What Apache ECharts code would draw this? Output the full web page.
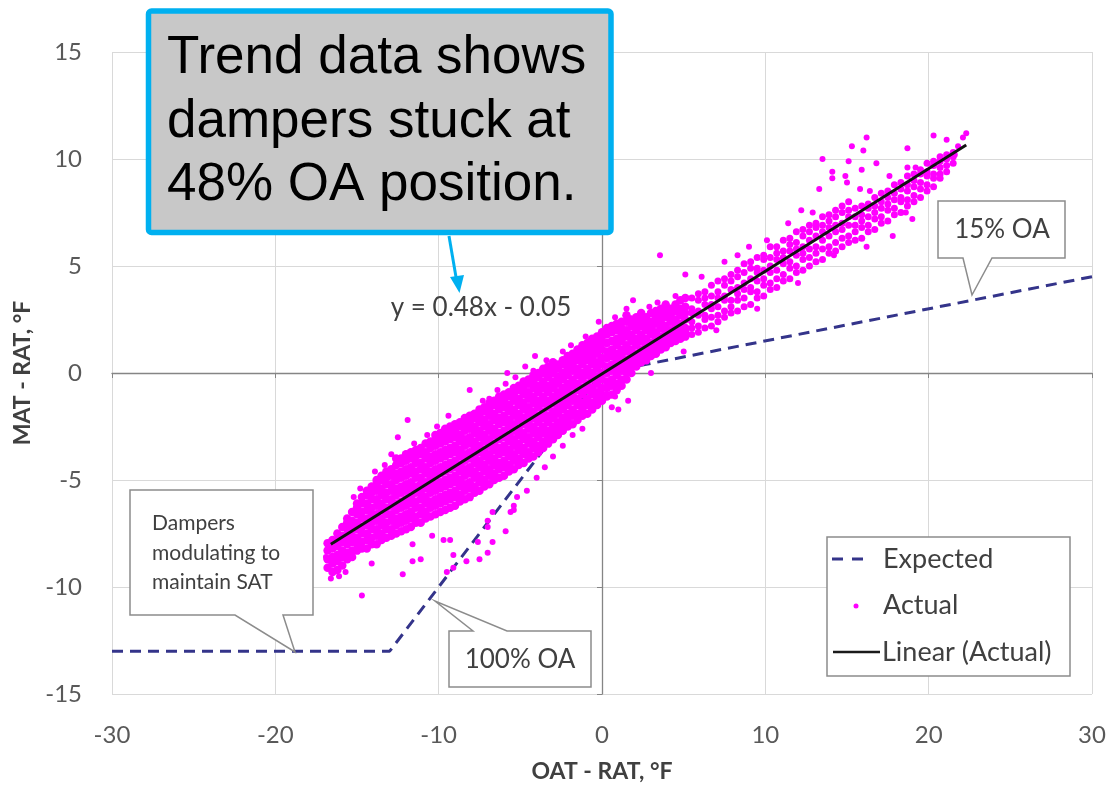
<!DOCTYPE html>
<html><head><meta charset="utf-8">
<script src="https://cdn.jsdelivr.net/npm/echarts@6/dist/echarts.min.js"></script>
<style>html,body{margin:0;padding:0;background:#fff}#chart{width:1110px;height:789px}</style>
</head><body><div id="chart"></div>
<script>
// ---- axes ----
const xAxisTicks = [-30, -20, -10, 0, 10, 20, 30];
const yAxisTicks = [-15, -10, -5, 0, 5, 10, 15];
// ---- Expected (piecewise) ----
const expectedX = [-30, -13, 0, 30];
const expectedY = [-13, -13, 0, 4.5];
// ---- Linear trend of Actual ----
const trendX = [-16.6, 22.3];
const trendY = [-8.0, 10.65];
// ---- Actual: dense band, columns [x, y1, y2, ...] ----
const actualBandNeg = [
[-16.8,-9.1,-8.7,-8.3,-7.95],
[-16.5,-9.3,-8.9,-8.6,-8.2,-7.8],
[-16.2,-9.2,-8.8,-8.5,-8.1,-7.8,-7.5],
[-15.9,-9.0,-8.6,-8.3,-7.9,-7.6,-7.2],
[-15.6,-8.7,-8.4,-8.0,-7.7,-7.3,-7.0,-6.8],
[-15.3,-8.6,-8.3,-7.9,-7.6,-7.2,-6.9,-6.5],
[-15.0,-8.3,-8.0,-7.7,-7.3,-7.0,-6.6,-6.3,-6.1],
[-14.7,-8.2,-7.9,-7.5,-7.2,-6.8,-6.5,-6.1,-5.8],
[-14.4,-8.2,-7.8,-7.5,-7.1,-6.8,-6.4,-6.1,-5.7,-5.5],
[-14.1,-8.0,-7.7,-7.3,-7.0,-6.6,-6.3,-5.9,-5.6,-5.3],
[-13.8,-8.0,-7.6,-7.3,-6.9,-6.6,-6.2,-5.9,-5.5,-5.2,-5.0],
[-13.5,-7.8,-7.5,-7.1,-6.8,-6.4,-6.1,-5.7,-5.4,-5.0,-4.8],
[-13.2,-7.7,-7.3,-7.0,-6.6,-6.3,-5.9,-5.6,-5.2,-4.9,-4.6],
[-12.9,-7.6,-7.3,-6.9,-6.6,-6.2,-5.9,-5.5,-5.2,-4.8,-4.5],
[-12.6,-7.5,-7.1,-6.8,-6.4,-6.1,-5.7,-5.4,-5.0,-4.7,-4.3,-4.0],
[-12.3,-7.4,-7.0,-6.7,-6.3,-6.0,-5.6,-5.3,-4.9,-4.6,-4.2,-4.0],
[-12.0,-7.3,-6.9,-6.6,-6.2,-5.9,-5.5,-5.2,-4.8,-4.5,-4.1,-3.8],
[-11.7,-7.2,-6.8,-6.5,-6.1,-5.8,-5.4,-5.1,-4.7,-4.4,-4.0,-3.7],
[-11.4,-7.0,-6.7,-6.3,-6.0,-5.6,-5.3,-4.9,-4.6,-4.2,-3.9,-3.6],
[-11.1,-7.0,-6.6,-6.3,-5.9,-5.6,-5.2,-4.9,-4.5,-4.2,-3.8,-3.5],
[-10.8,-6.8,-6.5,-6.1,-5.8,-5.4,-5.1,-4.7,-4.4,-4.0,-3.7,-3.3],
[-10.5,-6.7,-6.3,-6.0,-5.6,-5.3,-4.9,-4.6,-4.2,-3.9,-3.5,-3.2],
[-10.2,-6.6,-6.2,-5.9,-5.5,-5.2,-4.8,-4.5,-4.1,-3.8,-3.4,-3.1,-2.9],
[-9.9,-6.5,-6.1,-5.8,-5.4,-5.1,-4.7,-4.4,-4.0,-3.7,-3.3,-3.0,-2.8],
[-9.6,-6.4,-6.0,-5.7,-5.3,-5.0,-4.6,-4.3,-3.9,-3.6,-3.2,-2.9,-2.6],
[-9.3,-6.3,-5.9,-5.6,-5.2,-4.9,-4.5,-4.2,-3.8,-3.5,-3.1,-2.8,-2.5],
[-9.0,-6.2,-5.8,-5.5,-5.1,-4.8,-4.4,-4.1,-3.7,-3.4,-3.0,-2.7,-2.4],
[-8.7,-6.0,-5.7,-5.3,-5.0,-4.6,-4.3,-3.9,-3.6,-3.2,-2.9,-2.5,-2.3],
[-8.4,-5.9,-5.5,-5.2,-4.8,-4.5,-4.1,-3.8,-3.4,-3.1,-2.7,-2.4,-2.1],
[-8.1,-5.8,-5.4,-5.1,-4.7,-4.4,-4.0,-3.7,-3.3,-3.0,-2.6,-2.3,-2.0],
[-7.8,-5.6,-5.3,-4.9,-4.6,-4.2,-3.9,-3.5,-3.2,-2.8,-2.5,-2.1,-1.9],
[-7.5,-5.5,-5.1,-4.8,-4.4,-4.1,-3.7,-3.4,-3.0,-2.7,-2.3,-2.0,-1.7],
[-7.2,-5.3,-5.0,-4.6,-4.3,-3.9,-3.6,-3.2,-2.9,-2.5,-2.2,-1.8,-1.6],
[-6.9,-5.2,-4.8,-4.5,-4.1,-3.8,-3.4,-3.1,-2.7,-2.4,-2.0,-1.7,-1.4],
[-6.6,-5.0,-4.7,-4.3,-4.0,-3.6,-3.3,-2.9,-2.6,-2.2,-1.9,-1.5,-1.3],
[-6.3,-4.9,-4.5,-4.2,-3.8,-3.5,-3.1,-2.8,-2.4,-2.1,-1.7,-1.4,-1.1],
[-6.0,-4.8,-4.4,-4.1,-3.7,-3.4,-3.0,-2.7,-2.3,-2.0,-1.6,-1.3,-1.0],
[-5.7,-4.6,-4.3,-3.9,-3.6,-3.2,-2.9,-2.5,-2.2,-1.8,-1.5,-1.1,-0.9],
[-5.4,-4.5,-4.1,-3.8,-3.4,-3.1,-2.7,-2.4,-2.0,-1.7,-1.3,-1.0,-0.7],
[-5.1,-4.3,-4.0,-3.6,-3.3,-2.9,-2.6,-2.2,-1.9,-1.5,-1.2,-0.8,-0.6],
[-4.8,-4.2,-3.8,-3.5,-3.1,-2.8,-2.4,-2.1,-1.7,-1.4,-1.0,-0.7,-0.4],
[-4.5,-4.0,-3.7,-3.3,-3.0,-2.6,-2.3,-1.9,-1.6,-1.2,-0.9,-0.5,-0.3],
[-4.2,-3.9,-3.5,-3.2,-2.8,-2.5,-2.1,-1.8,-1.4,-1.1,-0.7,-0.4,-0.1],
[-3.9,-3.7,-3.4,-3.0,-2.7,-2.3,-2.0,-1.6,-1.3,-0.9,-0.6,-0.2,0.0],
[-3.6,-3.5,-3.2,-2.8,-2.5,-2.1,-1.8,-1.4,-1.1,-0.7,-0.4,0.0,0.2],
[-3.3,-3.3,-3.0,-2.7,-2.3,-2.0,-1.6,-1.3,-0.9,-0.6,-0.2,0.1,0.3],
[-3.0,-3.1,-2.8,-2.5,-2.1,-1.8,-1.4,-1.1,-0.7,-0.4,0.0,0.3,0.5],
[-2.7,-2.9,-2.6,-2.3,-1.9,-1.6,-1.2,-0.9,-0.5,-0.2,0.2,0.4],
[-2.4,-2.7,-2.4,-2.1,-1.7,-1.4,-1.0,-0.7,-0.3,0.0,0.4,0.6],
[-2.1,-2.5,-2.2,-1.9,-1.5,-1.2,-0.8,-0.5,-0.1,0.2,0.5,0.8],
[-1.8,-2.4,-2.0,-1.7,-1.3,-1.0,-0.6,-0.3,0.1,0.4,0.7,0.9],
[-1.5,-2.2,-1.9,-1.5,-1.2,-0.8,-0.5,-0.1,0.2,0.6,0.9,1.1],
[-1.2,-2.0,-1.7,-1.4,-1.0,-0.7,-0.3,0.0,0.4,0.7,1.0,1.3],
[-0.9,-1.9,-1.5,-1.2,-0.8,-0.5,-0.1,0.2,0.6,0.9,1.2,1.4],
[-0.6,-1.7,-1.4,-1.0,-0.7,-0.3,0.0,0.4,0.7,1.0,1.3,1.6],
[-0.3,-1.5,-1.2,-0.9,-0.5,-0.2,0.2,0.5,0.9,1.2,1.5,1.7],
[0.0,-1.3,-1.0,-0.7,-0.3,0.0,0.4,0.7,1.1,1.4,1.7,1.9]
];
const actualBandPos = [
[0.3,-1.1,-0.7,-0.4,0.0,0.3,0.7,1.0,1.4,1.8,2.1],
[0.6,-1.0,-0.6,-0.3,0.1,0.4,0.8,1.1,1.5,1.9,2.2],
[0.9,-0.8,-0.5,-0.1,0.2,0.6,0.9,1.3,1.6,2.0,2.3],
[1.2,-0.6,-0.3,0.1,0.4,0.8,1.1,1.5,1.8,2.1,2.4],
[1.5,-0.3,0.0,0.3,0.6,1.0,1.3,1.7,2.0,2.4,2.7],
[1.8,0.0,0.3,0.5,0.8,1.1,1.5,1.8,2.2,2.5],
[2.1,0.3,0.5,0.7,0.9,1.3,1.6,2.0,2.3,2.6],
[2.4,0.5,0.7,0.9,1.1,1.5,1.8,2.2,2.5,2.8],
[2.7,0.6,0.9,1.1,1.3,1.6,2.0,2.3,2.6],
[3.0,0.8,1.0,1.2,1.4,1.8,2.1,2.4,2.8],
[3.3,0.9,1.2,1.4,1.6,1.9,2.3,2.6,2.9],
[3.6,1.1,1.3,1.5,1.7,2.1,2.4,2.7,3.0],
[3.9,1.2,1.5,1.7,1.9,2.2,2.6,2.9,3.2],
[4.2,1.4,1.6,1.8,2.0,2.4,2.7,3.0],
[4.5,1.5,1.7,1.9,2.2,2.5,2.9,3.2],
[4.8,1.6,1.8,2.0,2.3,2.7,3.0,3.4],
[5.1,1.7,1.9,2.1,2.5,2.8,3.1,3.5]
];
const actualBandFar = [
[5.5,1.8,2.1,2.4,2.8,3.0,3.5],
[5.9,1.9,2.2,2.7,2.9,3.4,3.7],
[6.3,2.1,2.5,2.7,3.2,3.5,3.8],
[6.7,2.2,2.6,3.0,3.2,3.6,4.1],
[7.1,2.4,2.7,3.1,3.5,3.8,4.3],
[7.5,2.6,2.9,3.4,3.6,4.1,4.4],
[7.9,2.8,3.1,3.4,3.9,4.3,4.6],
[8.3,2.9,3.4,3.7,4.0,4.5,4.8],
[8.7,3.1,3.5,3.9,4.2,4.7,5.1],
[9.1,3.2,3.8,4.0,4.4,4.9,5.2],
[9.5,3.5,3.8,4.3,4.7,4.9,5.4],
[9.9,3.6,4.1,4.4,4.8,5.3,5.5],
[10.3,3.9,4.2,4.7,5.0,5.4,5.9],
[10.7,4.0,4.4,4.8,5.3,5.6,5.9],
[11.1,4.3,4.6,5.1,5.4,5.7,6.2],
[11.5,4.4,4.9,5.2,5.7,6.0,6.3],
[11.9,4.7,5.0,5.5,5.8,6.1,6.6],
[12.3,4.8,5.3,5.6,5.9,6.4,6.7],
[12.7,5.0,5.4,5.8,6.2,6.6,6.9],
[13.1,5.2,5.6,5.9,6.4,6.8,7.0],
[13.5,5.3,5.8,6.2,6.6,6.9,7.3],
[13.9,5.6,5.9,6.4,6.8,7.1,7.4],
[14.3,5.7,6.1,6.6,6.9,7.3,7.6],
[14.7,5.9,6.3,6.7,7.0,7.5,7.8],
[15.1,6.1,6.4,6.9,7.3,7.6,8.0],
[15.5,6.2,6.6,6.9,7.3,7.7],
[15.9,6.3,6.8,7.1,7.4,7.8],
[16.3,6.6,6.9,7.3,7.7,7.9],
[16.7,6.7,7.2,7.5,7.8,8.2],
[17.1,7.0,7.3,7.7,8.0,8.4],
[17.5,7.1,7.6,7.9,8.2,8.5],
[17.9,7.4,7.7,8.1,8.4,8.8],
[18.3,7.5,8.0,8.2,8.6,8.9],
[18.7,7.8,8.1,8.5,8.8,9.2],
[19.1,8.0,8.3,8.7,9.0,9.3],
[19.5,8.2,8.6,8.9,9.3,9.5],
[19.9,8.5,8.8,9.2,9.4,9.8],
[20.3,8.7,9.1,9.3,9.7,9.9],
[20.7,9.1,9.3,9.6,9.9,10.1],
[21.1,9.4,9.7,10.0,10.2],
[21.5,9.8,10.1,10.3]
];
// ---- Actual: scattered points off the band ----
const actualOutliers = [
[-16.9,-8.6],[-16.6,-9.6],[-16.1,-9.5],[-15.7,-9.3],[-14.7,-10.4],[-14.1,-8.9],[-15.2,-5.8],[-14.8,-5.4],
[-13.9,-4.6],[-13.3,-4.3],[-12.9,-3.8],[-12.5,-3.0],[-11.9,-2.2],[-11.5,-3.3],[-10.7,-2.9],[-10.1,-2.5],
[-9.4,-2.0],[-8.6,-2.3],[-8.1,-0.8],[-7.9,-1.9],[-7.3,-1.3],[-6.9,-1.2],[-6.4,-0.8],[-5.9,-0.5],[-5.8,0.0],
[-5.3,-0.2],[-4.7,0.3],[-4.2,0.1],[-4.1,0.8],[-3.4,0.6],[-2.4,1.0],[-1.9,1.3],[-1.0,1.7],[-0.2,2.4],[0.8,2.6],
[1.5,3.0],[1.9,3.4],[2.9,3.1],[3.4,3.3],[3.55,5.5],[4.5,3.6],[5.1,4.6],[6.1,4.5],[7.5,5.2],[8.3,5.5],[9.0,5.9],
[10.1,6.2],[11.4,7.0],[12.2,7.6],[12.9,7.5],[13.3,8.6],[13.5,10.0],[14.1,9.4],[14.1,9.1],[14.9,9.2],[15.0,8.9],
[15.1,9.9],[15.3,10.6],[15.8,8.6],[15.9,9.5],[16.0,10.4],[16.2,11.0],[16.4,8.5],[16.8,9.8],[17.6,9.2],[18.7,10.5],
[18.7,9.6],[19.2,9.6],[20.3,11.1],[21.1,10.9],[21.8,10.6],[22.1,11.0],[22.3,11.2],[21.6,10.2],
[-12.2,-9.4],[-11.6,-8.8],[-11.1,-8.7],[-11.6,-8.0],[-10.4,-7.6],[-9.7,-7.8],[-9.3,-7.8],[-9.1,-8.5],[-9.1,-9.1],
[-9.5,-9.3],[-8.3,-8.8],[-7.5,-8.7],[-7.0,-8.4],[-7.6,-7.9],[-6.7,-7.9],[-7.0,-7.2],[-7.0,-6.9],[-6.7,-6.5],
[-5.9,-7.4],[-5.4,-6.4],[-5.6,-6.5],[-5.4,-6.2],[-5.2,-5.8],[-6.4,-4.9],[-4.6,-5.5],[-4.0,-4.9],[-3.5,-4.4],
[-3.0,-3.9],[-2.4,-3.4],[-1.8,-2.9],[-1.2,-2.6],[0.3,-1.0],[0.6,-1.6],[0.8,-1.1],[1.0,-1.7],[1.6,-1.3],[3.0,0.0],
[5.0,1.0],[7.0,2.0],[9.5,3.0],[12.0,4.2],[14.2,5.5],[16.2,5.9],[17.8,6.4],[18.6,7.5],[19.0,7.2]
];
// ---- texts ----
const calloutMain = ['Trend data shows', 'dampers stuck at', '48% OA position.'];
const equationText = 'y = 0.48x - 0.05';
const legendNames = ['Expected', 'Actual', 'Linear (Actual)'];

// thousands of overlapping markers in the original make the core solid; the
// hand-read core points are drawn a little larger to give the same solid look
const actualData = [];
function addBand(tbl, size) {
  tbl.forEach(function (col) {
    for (let i = 1; i < col.length; i++) actualData.push({ value: [col[0], col[i]], symbolSize: size });
  });
}
addBand(actualBandNeg, 8.5);
addBand(actualBandPos, 8.5);
addBand(actualBandFar, 7);
actualOutliers.forEach(function (p) { actualData.push({ value: p, symbolSize: 6 }); });

const chart = echarts.init(document.getElementById('chart'), null, { renderer: 'canvas' });
const xr = { min: xAxisTicks[0], max: xAxisTicks[xAxisTicks.length - 1], interval: xAxisTicks[1] - xAxisTicks[0] };
const yr = { min: yAxisTicks[0], max: yAxisTicks[yAxisTicks.length - 1], interval: yAxisTicks[1] - yAxisTicks[0] };
const labelFont = { fontFamily: 'Lato', fontSize: 24, color: '#595959' };
const textColor = '#404040';
const boxStroke = '#8c8c8c';
const F = 'Lato';

function txt(x, y, s, size, opts) {
  opts = opts || {};
  return { type: 'text', x: x, y: y, z: 110, silent: true,
    style: { text: s, fontFamily: opts.family || F, fontSize: size, fill: opts.fill || textColor,
      align: opts.align || 'left', textAlign: opts.align || 'left',
      verticalAlign: opts.va || 'middle', textVerticalAlign: opts.va || 'middle',
      lineHeight: opts.lh } };
}
function poly(points) {
  return { type: 'polygon', z: 100, silent: true, shape: { points: points },
    style: { fill: '#ffffff', stroke: boxStroke, lineWidth: 1.5 } };
}

chart.setOption({
  animation: false,
  backgroundColor: '#ffffff',
  grid: { left: 112, right: 18, top: 52, bottom: 95 },
  xAxis: [
    { type: 'value', min: xr.min, max: xr.max, interval: xr.interval,
      name: 'OAT - RAT, °F', nameLocation: 'middle', nameGap: 66,
      nameTextStyle: { fontFamily: F, fontSize: 23, fontWeight: 'bold', color: textColor },
      axisLine: { show: false, onZero: false }, axisTick: { show: false },
      axisLabel: Object.assign({ margin: 29 }, labelFont),
      splitLine: { show: true, lineStyle: { color: '#d9d9d9', width: 1 } } },
    { type: 'value', min: xr.min, max: xr.max, interval: xr.interval, position: 'bottom',
      axisLine: { show: true, onZero: true, onZeroAxisIndex: 0, lineStyle: { color: '#858585', width: 1.3 } },
      axisTick: { show: true, length: 5, lineStyle: { color: '#858585' } },
      axisLabel: { show: false }, splitLine: { show: false } }
  ],
  yAxis: [
    { type: 'value', min: yr.min, max: yr.max, interval: yr.interval,
      name: 'MAT - RAT, °F', nameLocation: 'middle', nameGap: 68, nameRotate: 90,
      nameTextStyle: { fontFamily: F, fontSize: 23, fontWeight: 'bold', color: textColor },
      axisLine: { show: false, onZero: false }, axisTick: { show: false },
      axisLabel: Object.assign({ margin: 30 }, labelFont),
      splitLine: { show: true, lineStyle: { color: '#d9d9d9', width: 1 } } },
    { type: 'value', min: yr.min, max: yr.max, interval: yr.interval, position: 'left',
      axisLine: { show: true, onZero: true, onZeroAxisIndex: 0, lineStyle: { color: '#858585', width: 1.3 } },
      axisTick: { show: true, length: 5, lineStyle: { color: '#858585' } },
      axisLabel: { show: false }, splitLine: { show: false } }
  ],
  series: [
    { name: legendNames[0], type: 'line', xAxisIndex: 0, yAxisIndex: 0, symbol: 'none', z: 2,
      data: expectedX.map(function (x, i) { return [x, expectedY[i]]; }),
      lineStyle: { color: '#34348a', width: 3, type: [11, 7] } },
    { name: legendNames[1], type: 'scatter', xAxisIndex: 0, yAxisIndex: 0, z: 3,
      symbolSize: 6, data: actualData, itemStyle: { color: '#ff00ff', opacity: 1 } },
    { name: legendNames[2], type: 'line', xAxisIndex: 0, yAxisIndex: 0, symbol: 'none', z: 4,
      data: trendX.map(function (x, i) { return [x, trendY[i]]; }),
      lineStyle: { color: '#111111', width: 3 } }
  ],
  graphic: [
    // main callout
    { type: 'rect', z: 100, silent: true, shape: { x: 148.5, y: 11, width: 462.5, height: 221.5, r: 3 },
      style: { fill: '#c8c8c8', stroke: '#00b0f0', lineWidth: 5.5 } },
    txt(167, 27, calloutMain.join('\n'), 53, { family: 'Liberation Sans', fill: '#000000', va: 'top', lh: 63.5 }),
    // arrow
    { type: 'line', z: 100, silent: true, shape: { x1: 449, y1: 236, x2: 456.5, y2: 280 },
      style: { stroke: '#00b0f0', lineWidth: 3 } },
    { type: 'polygon', z: 100, silent: true, shape: { points: [[450, 277], [464, 275], [459.5, 293]] },
      style: { fill: '#00b0f0' } },
    txt(481, 308, equationText, 26, { align: 'center' }),
    // Dampers callout
    poly([[130, 490], [313, 490], [313, 615], [283, 615], [295, 652], [235, 615], [130, 615]]),
    txt(152, 553, 'Dampers\nmodulating to\nmaintain SAT', 21, { lh: 29.5 }),
    // 100% OA callout
    poly([[449, 631], [473, 631], [435, 601], [507, 631], [591, 631], [591, 687], [449, 687]]),
    txt(520, 660, '100% OA', 26, { align: 'center' }),
    // 15% OA callout
    poly([[938, 201], [1065, 201], [1065, 258], [992, 258], [972, 295], [963, 258], [938, 258]]),
    txt(1002, 230, '15% OA', 26, { align: 'center' }),
    // legend
    { type: 'rect', z: 100, silent: true, shape: { x: 827, y: 537, width: 243, height: 139 },
      style: { fill: '#ffffff', stroke: boxStroke, lineWidth: 1.5 } },
    { type: 'line', z: 101, silent: true, shape: { x1: 832, y1: 559, x2: 872, y2: 559 },
      style: { stroke: '#34348a', lineWidth: 3, lineDash: [11, 9] } },
    { type: 'circle', z: 101, silent: true, shape: { cx: 856, cy: 606, r: 2.5 }, style: { fill: '#ff00ff' } },
    { type: 'line', z: 101, silent: true, shape: { x1: 833, y1: 652, x2: 880, y2: 652 },
      style: { stroke: '#1a1a1a', lineWidth: 2.5 } },
    txt(883, 559, legendNames[0], 27),
    txt(883, 605, legendNames[1], 27),
    txt(882, 652, legendNames[2], 27)
  ]
});
</script>
</body></html>
